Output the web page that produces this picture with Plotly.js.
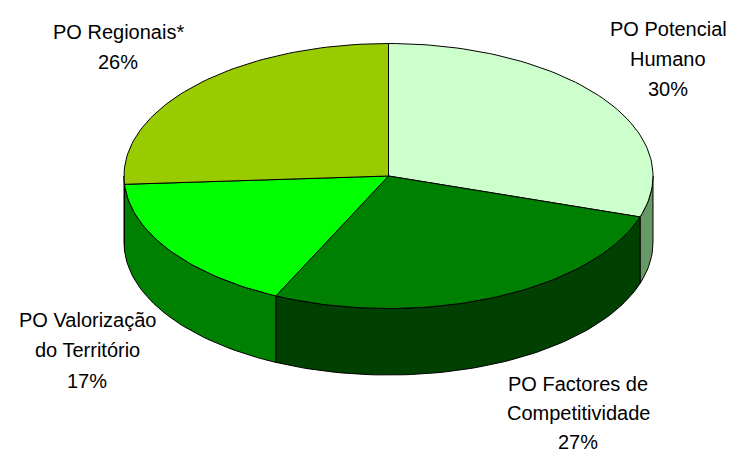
<!DOCTYPE html>
<html>
<head>
<meta charset="utf-8">
<script src="https://cdn.plot.ly/plotly-3.0.1.min.js"></script>
<style>html,body{margin:0;padding:0;background:#fff}#chart{width:737px;height:452px}</style>
</head>
<body>
<div id="chart"></div>
<script>
// Share of funding per operational programme, clockwise from 12 o'clock.
const programmes = ['PO Potencial Humano', 'PO Factores de Competitividade', 'PO Valorização do Território', 'PO Regionais*'];
const shares = [30, 27, 17, 26];
const labelLines = [['PO Potencial', 'Humano'], ['PO Factores de', 'Competitividade'], ['PO Valorização', 'do Território'], ['PO Regionais*']];
const topColors = ['#CCFFCC', '#008000', '#00FF00', '#99CC00'];
const wallColors = ['#669966', '#004000', '#008000', '#4D6600'];

// Tilted disc geometry in page units.
const disc = {cx: 388.5, cy: 176, rx: 264.5, ry: 132.5, depth: 66.5};
// Label anchors: centre x, the y of the first line's middle, and line spacing.
const labelAnchors = [[668, 29, 30], [578, 383.5, 29], [87, 319.5, 30.5], [118, 32, 30]];

const rad = d => d * Math.PI / 180;
const px = t => disc.cx + disc.rx * Math.sin(rad(t));
const py = t => disc.cy - disc.ry * Math.cos(rad(t));

function arc(a, b) {
  const n = Math.max(2, Math.ceil(Math.abs(b - a) / 1.5));
  const ts = [];
  for (let i = 0; i <= n; i++) ts.push(a + (b - a) * i / n);
  return ts;
}

const total = shares.reduce((s, v) => s + v, 0);
const spans = [];
let run = 0;
shares.forEach(v => {
  spans.push([run / total * 360, (run + v) / total * 360]);
  run += v;
});

const outline = {color: '#000', width: 1};
const traces = [];

// Side wall: only the part of each slice facing the viewer (90° to 270°).
spans.forEach(([a, b], i) => {
  const lo = Math.max(a, 90), hi = Math.min(b, 270);
  if (hi <= lo) return;
  const ts = arc(lo, hi);
  const back = ts.slice().reverse();
  traces.push({
    type: 'scatter', mode: 'lines', fill: 'toself', fillcolor: wallColors[i], line: outline,
    x: ts.map(px).concat(back.map(px), [px(lo)]),
    y: ts.map(t => py(t)).concat(back.map(t => py(t) + disc.depth), [py(lo)]),
    hoverinfo: 'skip', showlegend: false
  });
});

// Top face of each slice.
spans.forEach(([a, b], i) => {
  const ts = arc(a, b);
  traces.push({
    type: 'scatter', mode: 'lines', fill: 'toself', fillcolor: topColors[i], line: outline,
    x: [disc.cx].concat(ts.map(px), [disc.cx]),
    y: [disc.cy].concat(ts.map(py), [disc.cy]),
    name: programmes[i], text: programmes[i] + ': ' + shares[i] + '%',
    hoverinfo: 'text', showlegend: false
  });
});

// Each label line is its own annotation to hold the wide line spacing.
const annotations = [];
labelLines.forEach((lines, i) => {
  const [ax, ay, step] = labelAnchors[i];
  lines.concat([shares[i] + '%']).forEach((text, k) => {
    annotations.push({
      x: ax, y: ay + k * step,
      xref: 'x', yref: 'y', text, showarrow: false, xanchor: 'center', yanchor: 'middle',
      font: {family: '"Liberation Sans", Arial, sans-serif', size: 20, color: '#000'}
    });
  });
});

const hidden = {visible: false, fixedrange: true};
Plotly.newPlot('chart', traces, {
  width: 737, height: 452,
  margin: {l: 0, r: 0, t: 0, b: 0},
  paper_bgcolor: '#fff', plot_bgcolor: '#fff',
  xaxis: Object.assign({range: [0, 737]}, hidden),
  yaxis: Object.assign({range: [452, 0]}, hidden),
  annotations
}, {displayModeBar: false});
</script>
</body>
</html>
